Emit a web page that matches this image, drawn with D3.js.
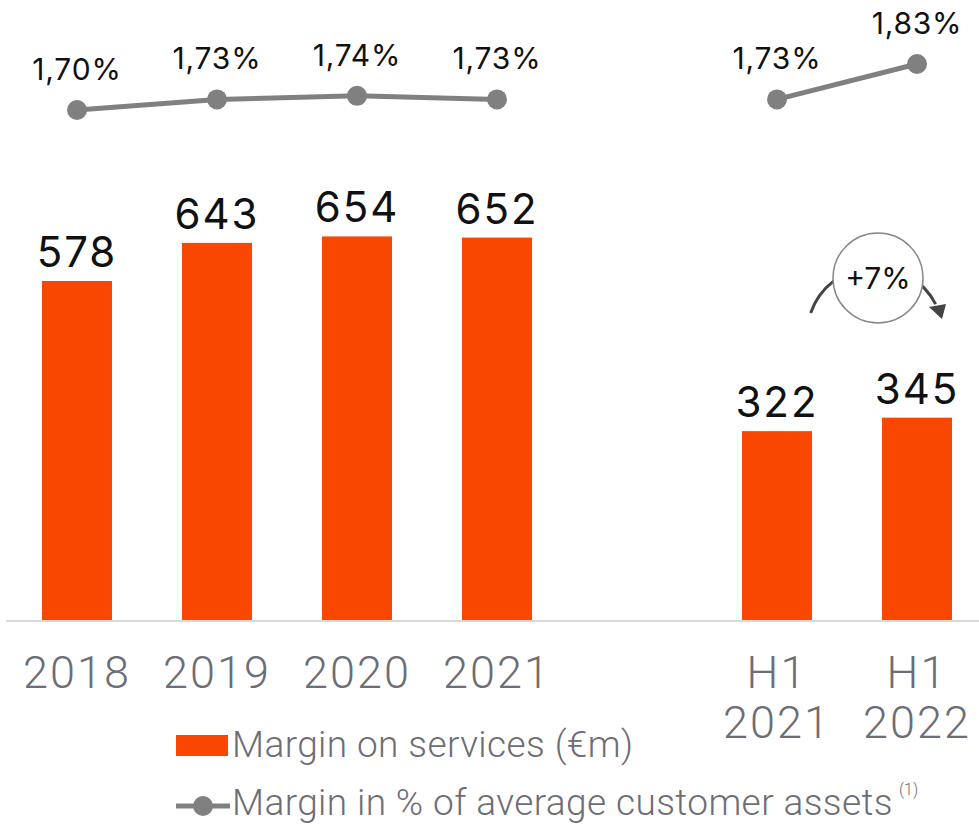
<!DOCTYPE html>
<html>
<head>
<meta charset="utf-8">
<script src="https://cdn.jsdelivr.net/npm/d3@7"></script>
<style>
	body { margin: 0; background: #fff; }
	svg { display: block; }
</style>
</head>
<body>
<div id="chartDiv"></div>
<script>
;(function() {

	// data
	var categories = ["2018", "2019", "2020", "2021", "gap", "H1 2021", "H1 2022"];
	var catLines = [["2018"], ["2019"], ["2020"], ["2021"], [], ["H1", "2021"], ["H1", "2022"]];
	var serviceMargin = [578, 643, 654, 652, null, 322, 345];
	var marginPct = [1.70, 1.73, 1.74, 1.73, null, 1.73, 1.83];
	var pctLabels = ["1,70%", "1,73%", "1,74%", "1,73%", "", "1,73%", "1,83%"];
	var growthLabel = "+7%";
	var legendBar = "Margin on services (€m)";
	var legendLine = "Margin in % of average customer assets";

	var width = 979;
	var height = 826;
	var baseY = 620;
	var orange = "#F94600";
	var grey = "#808080";
	var textGrey = "#6d6d76";
	var numFont = "Inter";

	var chart = d3.select("#chartDiv").append("svg")
		.attr("width", width)
		.attr("height", height);

	var rows = categories.map(function(c, i) {
		return { cat: c, lines: catLines[i], val: serviceMargin[i], pct: marginPct[i], pctLabel: pctLabels[i] };
	});

	var xScale = d3.scaleBand()
		.domain(categories)
		.range([7, 987])
		.paddingInner(0.5)
		.paddingOuter(0.25);

	var yScale = d3.scaleLinear()
		.domain([0, 578])
		.range([baseY, 281]);

	var pScale = d3.scaleLinear()
		.domain([1.70, 1.83])
		.range([110, 64]);

	function cx(d) { return xScale(d.cat) + xScale.bandwidth() / 2; }

	// bars
	var barRows = rows.filter(function(d) { return d.val != null; });

	chart.selectAll(".bar")
		.data(barRows)
		.enter().append("rect")
			.attr("class", "bar")
			.attr("x", function(d) { return xScale(d.cat); })
			.attr("y", function(d) { return yScale(d.val); })
			.attr("width", xScale.bandwidth())
			.attr("height", function(d) { return baseY - yScale(d.val); })
			.attr("fill", orange);

	chart.selectAll(".barLabel")
		.data(barRows)
		.enter().append("text")
			.attr("class", "barLabel")
			.attr("x", cx)
			.attr("y", function(d) { return yScale(d.val) - 14; })
			.attr("text-anchor", "middle")
			.style("font-family", numFont)
			.style("font-size", "42px")
			.style("font-weight", "400")
			.style("letter-spacing", "2px")
			.style("fill", "#111")
			.text(function(d) { return d.val; });

	// baseline
	chart.append("line")
		.attr("x1", 6).attr("x2", width)
		.attr("y1", baseY + 1).attr("y2", baseY + 1)
		.attr("stroke", "#d9d9d9")
		.attr("stroke-width", 2);

	// category labels
	chart.selectAll(".cat")
		.data(rows)
		.enter().append("text")
			.attr("class", "cat")
			.attr("x", cx)
			.attr("y", 688)
			.attr("text-anchor", "middle")
			.style("font-family", "Roboto")
			.style("font-weight", "300")
			.style("font-size", "45px")
			.style("letter-spacing", "2px")
			.style("fill", textGrey)
			.each(function(d) {
				var t = d3.select(this);
				d.lines.forEach(function(l, i) {
					t.append("tspan")
						.attr("x", cx(d))
						.attr("dy", i === 0 ? 0 : 50)
						.text(l);
				});
			});

	// margin line
	var line = d3.line()
		.defined(function(d) { return d.pct != null; })
		.x(cx)
		.y(function(d) { return pScale(d.pct); });

	chart.append("path")
		.datum(rows)
		.attr("d", line)
		.attr("fill", "none")
		.attr("stroke", grey)
		.attr("stroke-width", 5);

	var pctRows = rows.filter(function(d) { return d.pct != null; });

	chart.selectAll(".dot")
		.data(pctRows)
		.enter().append("circle")
			.attr("class", "dot")
			.attr("cx", cx)
			.attr("cy", function(d) { return pScale(d.pct); })
			.attr("r", 10)
			.attr("fill", grey);

	chart.selectAll(".pctLabel")
		.data(pctRows)
		.enter().append("text")
			.attr("class", "pctLabel")
			.attr("x", cx)
			.attr("y", function(d) { return pScale(d.pct) - 30; })
			.attr("text-anchor", "middle")
			.style("font-family", numFont)
			.style("font-size", "30px")
			.style("font-weight", "400")
			.style("letter-spacing", "0.8px")
			.style("fill", "#111")
			.text(function(d) { return d.pctLabel; });

	// growth bubble with arrow, sits left of the H1 2022 bar centre
	var gx = cx(rows[6]) - 39;
	var gy = 278;
	var arc = d3.arc()
		.innerRadius(68)
		.outerRadius(68)
		.startAngle(-1.24)
		.endAngle(1.1);

	chart.append("path")
		.attr("transform", "translate(" + (gx - 3) + "," + (gy + 57) + ")")
		.attr("d", arc())
		.attr("fill", "none")
		.attr("stroke", "#444")
		.attr("stroke-width", 3);

	chart.append("path")
		.attr("d", "M" + (gx + 51) + "," + (gy + 29) + " L" + (gx + 68) + "," + (gy + 26) + " L" + (gx + 64) + "," + (gy + 41) + " Z")
		.attr("fill", "#444");

	chart.append("circle")
		.attr("cx", gx)
		.attr("cy", gy)
		.attr("r", 45)
		.attr("fill", "#fff")
		.attr("stroke", "#888")
		.attr("stroke-width", 1.5);

	chart.append("text")
		.attr("x", gx)
		.attr("y", gy + 11)
		.attr("text-anchor", "middle")
		.style("font-family", numFont)
		.style("font-size", "30px")
		.style("font-weight", "400")
		.style("fill", "#111")
		.text(growthLabel);

	// legend
	chart.append("rect")
		.attr("x", 176).attr("y", 735)
		.attr("width", 52).attr("height", 21)
		.attr("fill", orange);

	chart.append("text")
		.attr("x", 232).attr("y", 757)
		.style("font-family", "Roboto")
		.style("font-weight", "300")
		.style("font-size", "37px")
		.style("letter-spacing", "0.4px")
		.style("fill", textGrey)
		.text(legendBar);

	chart.append("line")
		.attr("x1", 176).attr("x2", 230)
		.attr("y1", 806).attr("y2", 806)
		.attr("stroke", grey)
		.attr("stroke-width", 5);

	chart.append("circle")
		.attr("cx", 203).attr("cy", 806)
		.attr("r", 10)
		.attr("fill", grey);

	var lt = chart.append("text")
		.attr("x", 232).attr("y", 815)
		.style("font-family", "Roboto")
		.style("font-weight", "300")
		.style("font-size", "37px")
		.style("letter-spacing", "0.4px")
		.style("fill", textGrey)
		.text(legendLine);

	lt.append("tspan")
		.attr("dx", 6)
		.attr("dy", -20)
		.style("font-size", "16px")
		.style("letter-spacing", "0")
		.text("(1)");

})();
</script>
</body>
</html>
